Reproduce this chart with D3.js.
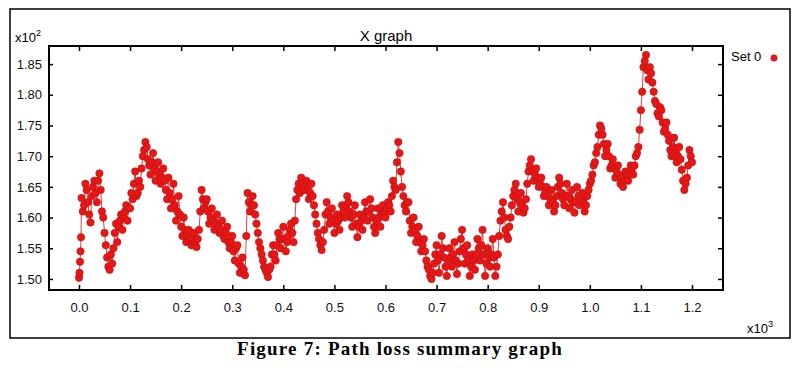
<!DOCTYPE html>
<html>
<head>
<meta charset="utf-8">
<title>Path loss summary graph</title>
<script src="https://cdn.jsdelivr.net/npm/d3@7"></script>
<style>
    html, body { margin: 0; padding: 0; background: #fff; }
    svg { display: block; }
    .axis path { display: none; }
    .axis line { stroke: #000; stroke-width: 1.5; }
    .axis text { font-family: 'Liberation Sans', Arial, sans-serif; font-size: 13px; fill: #111; }
</style>
</head>
<body>
<svg id="chart" width="800" height="368"></svg>
<script>
// distance along the route (m) and path loss (dB)
const distanceM = [
    0, 1, 2, 3, 4, 5, 7.5, 10, 12.5, 15, 17.5, 20, 22.5, 25, 27.5, 30, 32.5, 35, 37.5, 40, 42.5, 45, 47.5,
    50, 52.5, 55, 57.5, 60, 62.5, 65, 67.5, 70, 72.5, 75, 77.5, 80, 82.5, 85, 87.5, 90, 92.5, 95, 97.5,
    100, 102.5, 105, 107.5, 110, 112.5, 115, 117.5, 120, 122.5, 125, 127.5, 130, 132.5, 135, 137.5, 140, 142.5, 145, 147.5,
    150, 152.5, 155, 157.5, 160, 162.5, 165, 167.5, 170, 172.5, 175, 177.5, 180, 182.5, 185, 187.5, 190, 192.5, 195, 197.5,
    200, 202.5, 205, 207.5, 210, 212.5, 215, 217.5, 220, 222.5, 225, 227.5, 230, 232.5, 235, 237.5, 240, 242.5, 245, 247.5,
    250, 252.5, 255, 257.5, 260, 262.5, 265, 267.5, 270, 272.5, 275, 277.5, 280, 282.5, 285, 287.5, 290, 292.5, 295, 297.5,
    300, 302.5, 305, 307.5, 310, 312.5, 315, 317.5, 320, 322.5, 325, 327.5, 330, 332.5, 335, 337.5, 340, 342.5, 345, 347.5,
    350, 352.5, 355, 357.5, 360, 362.5, 365, 367.5, 370, 372.5, 375, 377.5, 380, 382.5, 385, 387.5, 390, 392.5, 395, 397.5,
    400, 402.5, 405, 407.5, 410, 412.5, 415, 417.5, 420, 422.5, 425, 427.5, 430, 432.5, 435, 437.5, 440, 442.5, 445, 447.5,
    450, 452.5, 455, 457.5, 460, 462.5, 465, 467.5, 470, 472.5, 475, 477.5, 480, 482.5, 485, 487.5, 490, 492.5, 495, 497.5,
    500, 502.5, 505, 507.5, 510, 512.5, 515, 517.5, 520, 522.5, 525, 527.5, 530, 532.5, 535, 537.5, 540, 542.5, 545, 547.5,
    550, 552.5, 555, 557.5, 560, 562.5, 565, 567.5, 570, 572.5, 575, 577.5, 580, 582.5, 585, 587.5, 590, 592.5, 595, 597.5,
    600, 602.5, 605, 607.5, 610, 612.5, 615, 617.5, 620, 622.5, 625, 627.5, 630, 632.5, 635, 637.5, 640, 642.5, 645, 647.5,
    650, 652.5, 655, 657.5, 660, 662.5, 665, 667.5, 670, 672.5, 675, 677.5, 680, 682.5, 685, 687.5, 690, 692.5, 695, 697.5,
    700, 702.5, 705, 707.5, 710, 712.5, 715, 717.5, 720, 722.5, 725, 727.5, 730, 732.5, 735, 737.5, 740, 742.5, 745, 747.5,
    750, 752.5, 755, 757.5, 760, 762.5, 765, 767.5, 770, 772.5, 775, 777.5, 780, 782.5, 785, 787.5, 790, 792.5, 795, 797.5,
    800, 802.5, 805, 807.5, 810, 812.5, 815, 817.5, 820, 822.5, 825, 827.5, 830, 832.5, 835, 837.5, 840, 842.5, 845, 847.5,
    850, 852.5, 855, 857.5, 860, 862.5, 865, 867.5, 870, 872.5, 875, 877.5, 880, 882.5, 885, 887.5, 890, 892.5, 895, 897.5,
    900, 902.5, 905, 907.5, 910, 912.5, 915, 917.5, 920, 922.5, 925, 927.5, 930, 932.5, 935, 937.5, 940, 942.5, 945, 947.5,
    950, 952.5, 955, 957.5, 960, 962.5, 965, 967.5, 970, 972.5, 975, 977.5, 980, 982.5, 985, 987.5, 990, 992.5, 995, 997.5,
    1000, 1002.5, 1005, 1007.5, 1010, 1012.5, 1015, 1017.5, 1020, 1022.5, 1025, 1027.5, 1030, 1032.5, 1035, 1037.5, 1040, 1042.5, 1045, 1047.5,
    1050, 1052.5, 1055, 1057.5, 1060, 1062.5, 1065, 1067.5, 1070, 1072.5, 1075, 1077.5, 1080, 1082.5, 1085, 1087.5, 1090, 1092.5, 1095, 1097.5,
    1100, 1102.5, 1105, 1107.5, 1110, 1112.5, 1115, 1117.5, 1120, 1122.5, 1125, 1127.5, 1130, 1132.5, 1135, 1137.5, 1140, 1142.5, 1145, 1147.5,
    1150, 1152.5, 1155, 1157.5, 1160, 1162.5, 1165, 1167.5, 1170, 1172.5, 1175, 1177.5, 1180, 1182.5, 1185, 1187.5, 1190, 1192.5, 1195, 1197.5, 1200
];

const pathLossDb = [
    150.2, 151.0, 152.8, 154.5, 156.8, 163.2, 161.0, 162.0, 165.5, 164.5, 162.5, 160.5, 159.2, 163.5, 165.0, 166.0, 164.0, 162.5, 166.0, 167.2, 164.5, 161.0, 160.0,
    157.5, 155.5, 153.5, 152.0, 151.5, 154.0, 152.5, 155.0, 157.5, 159.0, 156.0, 158.5, 159.5, 160.5, 158.0, 160.0, 161.0, 162.0, 159.5, 161.5,
    161.5, 164.0, 163.0, 165.5, 167.5, 163.5, 164.0, 166.0, 165.0, 168.0, 170.0, 171.0, 172.3, 171.5, 169.5, 168.5, 167.0, 169.0, 170.5, 168.0,
    166.0, 167.5, 169.0, 167.0, 165.5, 166.5, 168.0, 166.0, 164.5, 163.0, 166.5, 164.0, 161.5, 163.0, 165.5, 162.0, 159.5, 161.0, 163.5, 160.5,
    158.5, 157.0, 160.0, 158.0, 156.0, 157.0, 158.0, 156.5, 155.5, 156.5, 157.5, 156.0, 155.2, 156.5, 158.0, 161.0, 164.5, 163.0, 161.5, 162.5,
    163.0, 161.0, 159.0, 160.0, 161.5, 159.5, 158.0, 159.0, 160.5, 158.5, 157.5, 158.0, 159.5, 157.0, 156.5, 157.5, 158.5, 156.0, 155.0, 156.0,
    157.0, 154.5, 153.0, 155.0, 155.5, 152.5, 151.0, 152.0, 153.5, 151.5, 150.6, 157.0, 164.0, 162.5, 161.0, 162.0, 163.5, 162.0, 160.5, 159.0,
    157.5, 156.0, 155.0, 154.0, 153.0, 152.0, 151.5, 151.0, 150.3, 151.5, 152.0, 154.0, 155.5, 154.0, 153.0, 155.5, 157.5, 156.5, 155.0, 156.5,
    158.5, 156.5, 154.5, 156.0, 157.0, 158.0, 159.0, 157.5, 156.0, 159.5, 163.0, 164.5, 165.5, 164.0, 166.5, 165.5, 164.5, 165.0, 166.0, 164.5,
    163.0, 164.0, 165.5, 163.5, 162.0, 160.5, 159.0, 157.5, 156.5, 155.5, 154.7, 156.0, 158.0, 160.5, 162.5, 161.0, 159.0, 160.0, 161.5, 159.5,
    157.5, 159.0, 160.5, 159.5, 158.0, 160.0, 162.0, 161.0, 160.0, 162.0, 163.5, 162.5, 161.0, 160.0, 158.5, 160.5, 162.0, 159.0, 156.8, 158.5,
    160.5, 159.5, 158.0, 160.0, 162.5, 161.0, 159.5, 161.0, 163.0, 161.5, 160.0, 158.5, 157.5, 159.5, 161.5, 160.0, 158.5, 160.5, 162.0, 161.0,
    160.0, 161.5, 162.5, 162.0, 161.0, 163.5, 166.0, 165.0, 164.5, 169.0, 172.3, 170.5, 167.5, 165.0, 163.5, 162.0, 161.0, 162.5, 162.5, 159.5,
    157.5, 158.5, 160.0, 158.0, 156.0, 157.0, 158.5, 156.0, 154.5, 155.5, 156.5, 154.5, 153.0, 152.0, 151.5, 150.5, 150.0, 151.0, 152.5, 154.0,
    155.5, 153.0, 151.0, 154.0, 157.0, 155.0, 153.5, 152.0, 150.5, 152.5, 155.0, 153.5, 152.0, 154.0, 156.0, 153.0, 150.8, 152.5, 154.5, 156.5,
    158.0, 155.0, 152.5, 154.0, 155.5, 153.0, 150.5, 152.0, 154.0, 153.0, 151.5, 154.0, 156.5, 155.0, 153.0, 155.5, 158.0, 154.0, 150.5, 152.5,
    155.0, 153.5, 152.0, 154.0, 156.5, 153.5, 150.5, 152.0, 154.0, 157.0, 159.5, 161.0, 162.5, 160.0, 158.0, 157.0, 156.5, 158.5, 160.0, 162.0,
    163.5, 164.5, 165.5, 163.0, 161.0, 162.5, 164.0, 162.0, 160.8, 161.5, 163.0, 165.5, 167.5, 168.5, 169.5, 167.5, 166.0, 167.0, 168.0, 166.5,
    165.0, 165.5, 166.5, 165.0, 163.5, 164.0, 165.0, 163.5, 162.0, 163.0, 164.5, 162.5, 161.0, 162.0, 163.5, 165.0, 166.5, 165.5, 164.0, 163.0,
    162.0, 163.5, 165.5, 163.5, 161.5, 163.0, 164.5, 162.5, 160.8, 162.5, 165.0, 163.5, 162.0, 163.0, 164.0, 162.5, 161.0, 162.0, 163.5, 164.5,
    165.5, 166.0, 167.0, 168.5, 169.0, 170.5, 171.5, 173.5, 175.0, 174.5, 173.5, 172.0, 170.0, 171.0, 172.0, 170.0, 168.0, 168.5, 169.5, 168.0,
    166.5, 167.5, 168.5, 167.0, 165.5, 166.5, 165.0, 166.0, 167.5, 167.0, 166.0, 167.0, 168.5, 168.0, 167.0, 168.5, 170.0, 170.5, 171.5, 174.3,
    177.5, 180.5, 184.5, 185.5, 186.5, 184.0, 182.5, 184.5, 183.5, 182.0, 180.5, 179.0, 178.5, 177.0, 176.5, 178.0, 177.5, 175.5, 174.0, 174.5,
    175.5, 173.5, 172.5, 171.0, 170.0, 171.5, 173.0, 170.5, 169.0, 170.0, 171.5, 169.5, 167.8, 166.0, 164.5, 165.5, 166.5, 168.5, 171.0, 170.0, 169.0
];

const xTicks = [0, 100, 200, 300, 400, 500, 600, 700, 800, 900, 1000, 1100, 1200];
const yTicks = [150, 155, 160, 165, 170, 175, 180, 185];

const points = distanceM.map((d, i) => ({ x: d, y: pathLossDb[i] }));

const svg = d3.select('#chart');
const plot = { left: 49, top: 46, right: 723, bottom: 290 };
const red = '#ea1616';

// outer frame
svg.append('rect')
    .attr('x', 10).attr('y', 9)
    .attr('width', 780).attr('height', 329)
    .attr('fill', 'none').attr('stroke', '#000').attr('stroke-width', 1.5);

const x = d3.scaleLinear().domain([-58.7, 1260.7]).range([plot.left, plot.right]);
const y = d3.scaleLinear().domain([148.2, 187.95]).range([plot.bottom, plot.top]);

// ticks point inward on all four sides
svg.append('g').attr('class', 'axis')
    .attr('transform', `translate(0,${plot.bottom})`)
    .call(d3.axisBottom(x).tickValues(xTicks).tickSize(-5).tickPadding(13)
        .tickFormat(d => (d / 1000).toFixed(1)));
svg.append('g').attr('class', 'axis')
    .attr('transform', `translate(0,${plot.top})`)
    .call(d3.axisTop(x).tickValues(xTicks).tickSize(-5).tickFormat(''));
svg.append('g').attr('class', 'axis')
    .attr('transform', `translate(${plot.left},0)`)
    .call(d3.axisLeft(y).tickValues(yTicks).tickSize(-4).tickPadding(7)
        .tickFormat(d => (d / 100).toFixed(2)));
svg.append('g').attr('class', 'axis')
    .attr('transform', `translate(${plot.right},0)`)
    .call(d3.axisRight(y).tickValues(yTicks).tickSize(-5).tickFormat(''));

svg.append('rect')
    .attr('x', plot.left).attr('y', plot.top)
    .attr('width', plot.right - plot.left).attr('height', plot.bottom - plot.top)
    .attr('fill', 'none').attr('stroke', '#000').attr('stroke-width', 2);

// series
const line = d3.line().x(d => x(d.x)).y(d => y(d.y));
svg.append('path')
    .datum(points)
    .attr('d', line)
    .attr('fill', 'none')
    .attr('stroke', '#d01010')
    .attr('stroke-width', 0.8);

svg.append('g').selectAll('circle')
    .data(points)
    .enter().append('circle')
    .attr('cx', d => x(d.x))
    .attr('cy', d => y(d.y))
    .attr('r', 3.7)
    .attr('fill', red)
    .attr('stroke', '#b41212')
    .attr('stroke-width', 0.6);

// texts
const sans = "'Liberation Sans', Arial, sans-serif";
svg.append('text')
    .attr('x', (plot.left + plot.right) / 2).attr('y', 41)
    .attr('text-anchor', 'middle')
    .style('font-family', sans).style('font-size', '15px')
    .text('X graph');

const yMul = svg.append('text')
    .attr('x', 15).attr('y', 42)
    .style('font-family', sans).style('font-size', '13px')
    .text('x10');
yMul.append('tspan').attr('dy', -6).style('font-size', '9px').text('2');

const xMul = svg.append('text')
    .attr('x', 747).attr('y', 333)
    .style('font-family', sans).style('font-size', '13px')
    .text('x10');
xMul.append('tspan').attr('dy', -6).style('font-size', '9px').text('3');

// legend
svg.append('text')
    .attr('x', 731).attr('y', 61)
    .style('font-family', sans).style('font-size', '13px')
    .text('Set 0');
svg.append('circle')
    .attr('cx', 774).attr('cy', 58).attr('r', 3.2)
    .attr('fill', red).attr('stroke', '#b41212').attr('stroke-width', 0.6);

// caption
svg.append('text')
    .attr('x', 400).attr('y', 355)
    .attr('text-anchor', 'middle')
    .style('font-family', "'Liberation Serif', 'Times New Roman', serif")
    .style('font-weight', 'bold').style('font-size', '19px')
    .style('letter-spacing', '1.2px')
    .text('Figure 7: Path loss summary graph');
</script>
</body>
</html>
